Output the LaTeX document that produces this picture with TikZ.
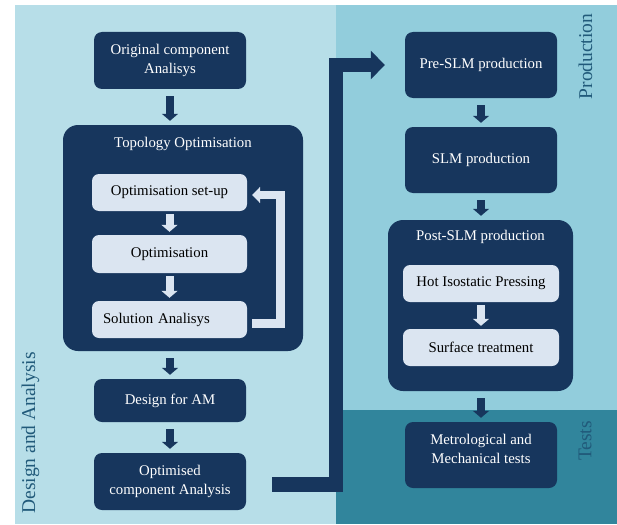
\documentclass[tikz,border=0pt]{standalone}
\usepackage{fontspec}
\setmainfont{Liberation Serif}
\usetikzlibrary{arrows.meta}
\definecolor{paneDA}{HTML}{B7DEE8}
\definecolor{paneP}{HTML}{92CDDC}
\definecolor{paneT}{HTML}{31859C}
\definecolor{navy}{HTML}{17365D}
\definecolor{pale}{HTML}{DBE5F1}
\definecolor{sidetxt}{HTML}{215A7A}
\newcommand{\boxfont}{\fontsize{14.8}{19}\selectfont}

\begin{document}
\begin{tikzpicture}[x=1pt,y=-1pt,
  dbox/.style={rectangle,rounded corners=8pt,fill=navy,text=white,align=center,inner sep=0pt,font=\boxfont,minimum width=152pt},
  lbox/.style={rectangle,rounded corners=7pt,fill=pale,text=black,align=center,inner sep=0pt,font=\boxfont,minimum width=155pt,minimum height=37pt},
  frame/.style={rectangle,rounded corners=15pt,fill=navy,inner sep=0pt},
  ttl/.style={text=white,font=\boxfont,inner sep=0pt},
  side/.style={rotate=90,text=sidetxt,inner sep=0pt,font=\fontsize{19.5}{22}\selectfont},
  darrow/.style={draw=navy,line width=8pt,-{Triangle[length=7pt,width=16pt]},shorten <=7pt,shorten >=4pt},
  larrow/.style={draw=pale,line width=8pt,-{Triangle[length=7pt,width=16pt]},shorten <=3pt,shorten >=3pt},
  fbarrow/.style={draw=pale,line width=8.5pt,-{Triangle[length=8pt,width=16pt]}},
  bigarrow/.style={draw=navy,line width=14.5pt,-{Triangle[length=14pt,width=28pt]}}]
\useasboundingbox (0,0) rectangle (617,524);
% panels
\fill[paneDA] (15,5) rectangle (336,524);
\fill[paneP] (336,5) rectangle (617,410);
\fill[paneT] (336,410) rectangle (617,524);
\node[side] (sDA) at (30.5,433) {Design and Analysis};
\node[side] (sP) at (585.5,56.5) {Production};
\node[side] (sT) at (585,441) {Tests};
%
\node[dbox,minimum height=57pt] (oca) at (170,60.5) {Original component\\Analisys};
\node[frame,minimum width=240pt,minimum height=226pt] (topo) at (183,238) {};
\node[ttl] (ttopo) at (183,144) {Topology Optimisation};
\node[lbox] (setup) at (169.5,192.5) {Optimisation set-up};
\node[lbox,minimum height=38pt] (opt) at (169.5,254) {Optimisation};
\node[lbox,text width=133pt,inner xsep=11pt,align=left] (sol) at (169.5,319.5) {Solution Analisys};
\node[dbox,minimum height=43pt] (dfam) at (170,400.5) {Design for AM};
\node[dbox,minimum height=57pt] (ocomp) at (170,481.5) {Optimised\\component Analysis};
%
\node[dbox,minimum height=66pt] (pre) at (481,65) {Pre-SLM production};
\node[dbox,minimum height=66pt] (slm) at (481,160) {SLM production};
\node[frame,minimum width=185pt,minimum height=171pt] (post) at (480.5,305.5) {};
\node[ttl] (tpost) at (480.5,237) {Post-SLM production};
\node[lbox,minimum width=156pt] (hip) at (481,283.5) {Hot Isostatic Pressing};
\node[lbox,minimum width=156pt] (surf) at (481,347.5) {Surface treatment};
\node[dbox,minimum height=66pt,text depth=12pt] (met) at (481,455) {Metrological and\\Mechanical tests};
%
\draw[darrow] (oca.south) -- (oca.south |- topo.north);
\draw[darrow] (dfam.north |- topo.south) -- (dfam.north);
\draw[darrow] (dfam) -- (ocomp);
\draw[darrow] (pre) -- (slm);
\draw[darrow] (slm.south) -- (slm.south |- post.north);
\draw[darrow] (met.north |- post.south) -- (met.north);
\draw[larrow] (setup) -- (opt);
\draw[larrow] (opt) -- (sol);
\draw[larrow] (hip) -- (surf);
\draw[fbarrow] ([xshift=5pt,yshift=-4pt]sol.east) -| ([xshift=33.5pt,yshift=-2.5pt]setup.east) -- ([xshift=5pt,yshift=-2.5pt]setup.east);
\draw[bigarrow] ([xshift=26pt,yshift=-3pt]ocomp.east) -| ([xshift=-69pt]pre.west) -- ([xshift=-20pt]pre.west);
\end{tikzpicture}
\end{document}
